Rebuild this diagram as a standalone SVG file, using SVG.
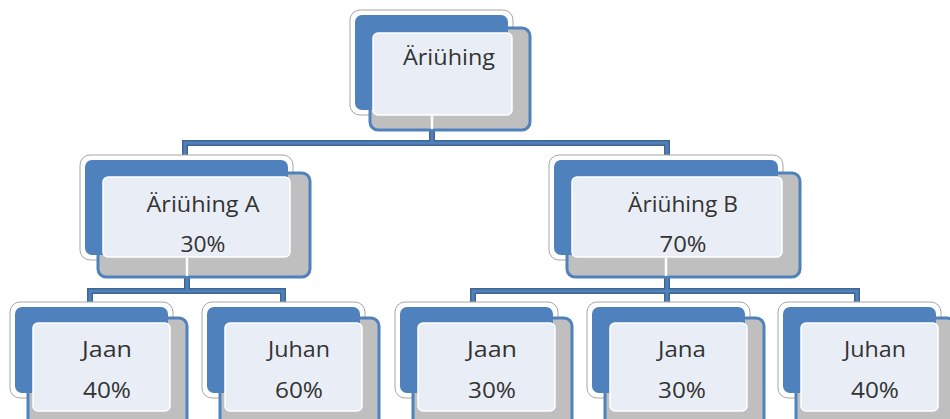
<svg xmlns="http://www.w3.org/2000/svg" width="950" height="419" viewBox="0 0 950 419">
<style>
.ol{fill:#fff;stroke:#a6a6a6;stroke-width:1}
.bk{fill:#4f81bd}
.fr{fill:#bfbfbf;stroke:#4f81bd;stroke-width:3}
.pn{fill:#e9eef6;stroke:#fff;stroke-width:1.5}
.wl{stroke:#fff;stroke-width:2.5}
.cO{fill:none;stroke:#42658f;stroke-width:6}
.cI{fill:none;stroke:#4f81bd;stroke-width:3}
text{font-family:"Open Sans","Liberation Sans",sans-serif;font-size:21px;fill:#333;text-anchor:middle}
</style>
<g id="connectors">
<path class="cO" d="M432,125V143M185,165V143H667V165M187,272V291M90,310V291H283V310M667,272V291M473,310V291H857V310M667,291V310"/>
<path class="cI" d="M432,125V143M185,165V143H667V165M187,272V291M90,310V291H283V310M667,272V291M473,310V291H857V310M667,291V310"/>
</g>
<g id="n-root">
<rect class="ol" x="350" y="10" width="163" height="105" rx="10"/>
<rect class="fr" x="370" y="28" width="160" height="102" rx="8"/>
<rect class="bk" x="355" y="15" width="153" height="95" rx="7"/>
<rect class="pn" x="373" y="33" width="139" height="82" rx="5"/>
<line class="wl" x1="432" y1="116" x2="432" y2="129"/>
<text x="449" y="65" textLength="92" lengthAdjust="spacingAndGlyphs">Äriühing</text>
</g>
<g id="n-a">
<rect class="ol" x="80" y="155" width="213" height="105" rx="10"/>
<rect class="fr" x="98" y="173" width="212" height="104" rx="8"/>
<rect class="bk" x="85" y="160" width="203" height="95" rx="7"/>
<rect class="pn" x="103" y="177" width="187" height="80" rx="5"/>
<line class="wl" x1="187" y1="258" x2="187" y2="276"/>
<text x="203" y="212" textLength="113" lengthAdjust="spacingAndGlyphs">Äriühing A</text>
<text x="203" y="252" textLength="45" lengthAdjust="spacingAndGlyphs">30%</text>
</g>
<g id="n-b">
<rect class="ol" x="549" y="155" width="234" height="105" rx="10"/>
<rect class="fr" x="567" y="173" width="233" height="104" rx="8"/>
<rect class="bk" x="554" y="160" width="224" height="95" rx="7"/>
<rect class="pn" x="572" y="177" width="210" height="80" rx="5"/>
<line class="wl" x1="666" y1="258" x2="666" y2="276"/>
<text x="683" y="212" textLength="110" lengthAdjust="spacingAndGlyphs">Äriühing B</text>
<text x="683" y="252" textLength="47" lengthAdjust="spacingAndGlyphs">70%</text>
</g>
<g id="n-a1">
<rect class="ol" x="10" y="302" width="163" height="96" rx="10"/>
<rect class="fr" x="28" y="318" width="159" height="110" rx="8"/>
<rect class="bk" x="15" y="307" width="153" height="86" rx="7"/>
<rect class="pn" x="33" y="323" width="137" height="88" rx="5"/>
<text x="107" y="357" textLength="50" lengthAdjust="spacingAndGlyphs">Jaan</text>
<text x="107" y="398" textLength="48" lengthAdjust="spacingAndGlyphs">40%</text>
</g>
<g id="n-a2">
<rect class="ol" x="202" y="302" width="163" height="96" rx="10"/>
<rect class="fr" x="220" y="318" width="159" height="110" rx="8"/>
<rect class="bk" x="207" y="307" width="153" height="86" rx="7"/>
<rect class="pn" x="225" y="323" width="137" height="88" rx="5"/>
<text x="299" y="357" textLength="62" lengthAdjust="spacingAndGlyphs">Juhan</text>
<text x="299" y="398" textLength="48" lengthAdjust="spacingAndGlyphs">60%</text>
</g>
<g id="n-b1">
<rect class="ol" x="395" y="302" width="163" height="96" rx="10"/>
<rect class="fr" x="413" y="318" width="159" height="110" rx="8"/>
<rect class="bk" x="400" y="307" width="153" height="86" rx="7"/>
<rect class="pn" x="418" y="323" width="137" height="88" rx="5"/>
<text x="492" y="357" textLength="50" lengthAdjust="spacingAndGlyphs">Jaan</text>
<text x="492" y="398" textLength="48" lengthAdjust="spacingAndGlyphs">30%</text>
</g>
<g id="n-b2">
<rect class="ol" x="587" y="302" width="163" height="96" rx="10"/>
<rect class="fr" x="605" y="318" width="159" height="110" rx="8"/>
<rect class="bk" x="592" y="307" width="153" height="86" rx="7"/>
<rect class="pn" x="610" y="323" width="137" height="88" rx="5"/>
<text x="682" y="357" textLength="48" lengthAdjust="spacingAndGlyphs">Jana</text>
<text x="682" y="398" textLength="48" lengthAdjust="spacingAndGlyphs">30%</text>
</g>
<g id="n-b3">
<rect class="ol" x="778" y="302" width="163" height="96" rx="10"/>
<rect class="fr" x="796" y="318" width="159" height="110" rx="8"/>
<rect class="bk" x="783" y="307" width="153" height="86" rx="7"/>
<rect class="pn" x="801" y="323" width="137" height="88" rx="5"/>
<text x="875" y="357" textLength="62" lengthAdjust="spacingAndGlyphs">Juhan</text>
<text x="875" y="398" textLength="48" lengthAdjust="spacingAndGlyphs">40%</text>
</g>
</svg>
